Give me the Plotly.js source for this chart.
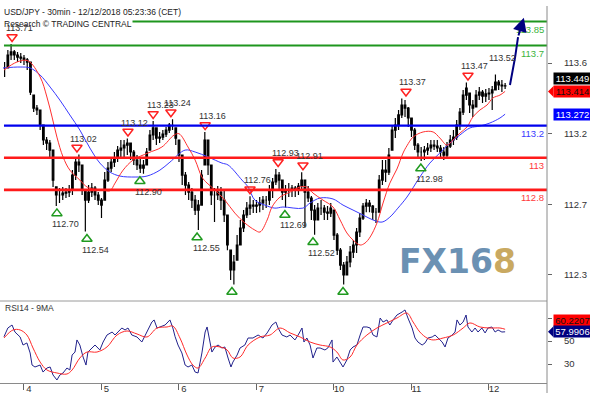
<!DOCTYPE html>
<html><head><meta charset="utf-8">
<script src="https://cdn.plot.ly/plotly-3.0.1.min.js"></script>
<style>html,body{margin:0;padding:0;background:#fff;}#chart{width:590px;height:399px;}</style>
</head><body><div id="chart"></div>
<script>
// ---- data (hours from Dec 4 00:00, weekend removed) ----
const barHours = [-6,-5,-4,-3,-2,-1,0,1,2,3,4,5,6,7,8,9,10,11,12,13,14,15,16,17,18,19,20,21,22,23,24,25,26,27,28,29,30,31,32,33,34,35,36,37,38,39,40,41,42,43,44,45,46,47,48,49,50,51,52,53,54,55,56,57,58,59,60,61,62,63,64,65,66,67,68,69,70,71,72,73,74,75,76,77,78,79,80,81,82,83,84,85,86,87,88,89,90,91,92,93,94,95,96,97,98,99,100,101,102,103,104,105,106,107,108,109,110,111,112,113,114,115,116,117,118,119,120,121,122,123,124,125,126,127,128,129,130,131,132,133,134,135,136,137,138,139,140,141,142,143,144,145,146,147,148,149];
const barHigh = [113.597,113.672,113.710,113.672,113.660,113.653,
113.641,113.622,113.597,113.391,113.329,113.298,113.204,113.129,113.111,113.048,112.818,112.811,112.818,112.811,112.830,112.923,112.998,113.020,112.955,112.799,112.830,112.842,112.824,112.786,
112.749,112.911,112.973,113.005,113.036,113.073,113.111,113.111,113.120,113.092,113.048,113.017,112.998,112.986,113.061,113.173,113.230,113.186,113.161,113.173,113.192,113.217,113.240,113.186,
113.111,113.017,112.911,112.849,112.811,112.768,112.736,112.923,113.160,113.111,112.955,112.811,112.824,112.818,112.799,112.643,112.424,112.393,112.518,112.612,112.674,112.724,112.760,112.736,
112.736,112.755,112.761,112.761,112.830,112.874,112.930,112.911,112.861,112.830,112.842,112.830,112.824,112.842,112.910,112.861,112.824,112.761,112.705,112.718,112.736,112.705,112.699,112.718,
112.674,112.531,112.437,112.350,112.387,112.450,112.487,112.562,112.655,112.718,112.743,112.736,112.705,112.686,112.892,112.986,112.986,113.061,113.204,113.248,113.298,113.370,113.360,113.317,
113.248,113.186,113.092,113.067,113.073,113.092,113.111,113.111,113.111,113.079,113.067,113.098,113.142,113.173,113.235,113.310,113.423,113.470,113.404,113.360,113.423,113.441,113.423,113.429,
113.435,113.448,113.520,113.485,113.485,113.466];
const barLow = [113.504,113.560,113.610,113.610,113.597,113.591,
113.578,113.547,113.391,113.285,113.267,113.173,113.079,113.048,113.005,112.818,112.700,112.718,112.736,112.749,112.755,112.768,112.861,112.911,112.768,112.540,112.718,112.755,112.736,112.705,
112.624,112.736,112.849,112.911,112.942,112.973,113.005,112.998,113.017,112.986,112.955,112.923,112.905,112.900,112.955,113.048,113.111,113.079,113.092,113.111,113.129,113.154,113.173,113.079,
112.973,112.830,112.768,112.736,112.686,112.643,112.550,112.705,112.955,112.892,112.705,112.599,112.736,112.674,112.599,112.424,112.237,112.210,112.362,112.456,112.537,112.624,112.643,112.655,
112.655,112.661,112.674,112.686,112.705,112.749,112.830,112.799,112.736,112.690,112.755,112.755,112.755,112.768,112.799,112.568,112.724,112.612,112.520,112.612,112.643,112.612,112.612,112.630,
112.487,112.393,112.300,112.210,112.269,112.318,112.375,112.406,112.506,112.612,112.661,112.661,112.612,112.593,112.661,112.830,112.849,112.892,113.048,113.123,113.173,113.248,113.254,113.192,
113.129,113.048,112.998,112.980,112.986,113.017,113.036,113.048,113.036,113.005,112.986,113.005,113.061,113.079,113.111,113.173,113.267,113.360,113.279,113.254,113.317,113.360,113.341,113.348,
113.360,113.298,113.423,113.423,113.410,113.429];
const barClose = [113.560,113.641,113.660,113.641,113.628,113.622,
113.610,113.597,113.410,113.310,113.298,113.204,113.111,113.092,113.048,112.861,112.768,112.768,112.780,112.786,112.799,112.892,112.973,112.955,112.799,112.736,112.786,112.811,112.768,112.736,
112.705,112.861,112.936,112.973,112.998,113.048,113.061,113.079,113.092,113.036,112.986,112.955,112.936,112.955,113.036,113.142,113.186,113.123,113.129,113.148,113.173,113.204,113.204,113.123,
113.017,112.892,112.830,112.786,112.736,112.674,112.705,112.892,113.111,112.955,112.768,112.768,112.786,112.736,112.643,112.456,112.300,112.350,112.456,112.562,112.643,112.686,112.705,112.699,
112.705,112.718,112.736,112.736,112.799,112.849,112.892,112.861,112.786,112.799,112.799,112.811,112.799,112.824,112.861,112.786,112.749,112.674,112.612,112.686,112.686,112.661,112.655,112.686,
112.518,112.424,112.331,112.269,112.350,112.412,112.456,112.537,112.624,112.699,112.718,112.699,112.661,112.661,112.861,112.923,112.911,113.017,113.173,113.204,113.267,113.329,113.310,113.248,
113.173,113.079,113.036,113.036,113.048,113.061,113.079,113.073,113.061,113.036,113.017,113.073,113.111,113.129,113.204,113.285,113.391,113.435,113.329,113.310,113.391,113.410,113.385,113.398,
113.404,113.423,113.472,113.454,113.448,113.449];

const maFastHours = [-6.2,-2.2,1.2,5.0,7.1,8.7,10.2,12.1,14.2,17.3,19.5,21.4,24.5,26.6,28.2,30.7,33.8,38.4,42.7,46.5,48.0,50.8,53.0,55.1,56.7,59.2,62.2,65.3,68.4,71.5,73.1,75.3,76.8,79.3,82.4,85.5,87.6,89.5,92.6,95.7,97.9,100.0,101.9,104.1,105.6,107.2,109.3,111.2,113.3,115.5,117.4,118.6,120.5,123.6,126.7,128.8,131.0,132.9,135.0,137.2,139.0,141.2,143.4,145.2,147.4,149.0];
const maFastValues = [113.547,113.597,113.605,113.504,113.379,113.254,113.129,113.005,112.923,112.861,112.818,112.805,112.799,112.794,112.842,112.923,112.986,113.030,113.067,113.142,113.150,113.067,112.986,112.880,112.842,112.799,112.736,112.655,112.593,112.549,112.537,112.612,112.693,112.755,112.786,112.818,112.818,112.780,112.736,112.693,112.612,112.531,112.487,112.456,112.468,112.506,112.593,112.718,112.842,112.930,113.030,113.075,113.129,113.161,113.161,113.123,113.079,113.111,113.154,113.192,113.254,113.298,113.329,113.373,113.391,113.414];
const maSlowHours = [-6.5,-1.2,1.9,5.0,8.1,11.1,14.2,17.3,20.4,23.5,26.6,29.7,34.4,38.1,42.1,45.2,49.9,53.0,57.0,61.3,63.2,67.5,69.4,71.5,74.6,77.7,80.2,86.4,88.6,91.7,95.7,98.8,101.9,105.0,108.1,110.9,113.3,115.8,118.6,122.6,125.7,128.8,131.9,135.0,138.1,141.2,144.3,147.4,149.0];
const maSlowValues = [113.560,113.566,113.560,113.516,113.441,113.360,113.267,113.173,113.061,112.967,112.911,112.886,112.880,112.886,112.923,112.973,113.048,113.036,113.005,112.967,112.955,112.861,112.818,112.736,112.705,112.686,112.693,112.686,112.718,112.749,112.743,112.705,112.674,112.643,112.612,112.599,112.630,112.686,112.755,112.880,112.967,113.030,113.092,113.142,113.186,113.198,113.217,113.248,113.272];

const rsiHours = [-6.2,-5.0,-3.7,-2.8,-1.2,-0.3,0.9,1.9,2.5,3.4,5.0,5.9,7.1,8.1,9.0,10.2,11.1,12.1,13.3,14.2,14.9,15.8,16.4,17.3,18.3,19.2,19.8,21.1,22.0,23.5,24.5,25.7,27.3,28.2,29.1,30.3,31.3,32.2,33.4,35.0,36.5,37.5,38.4,39.6,40.3,41.2,42.1,43.7,45.2,46.1,46.8,47.7,48.9,49.9,50.8,52.0,53.0,53.9,55.1,56.1,56.7,57.3,58.2,59.2,60.1,61.3,62.2,63.2,64.1,64.7,66.0,66.9,68.4,69.4,70.9,72.5,74.0,75.3,76.8,78.0,78.7,79.9,81.4,82.4,83.9,84.9,85.5,86.1,86.7,87.6,88.6,89.5,90.7,91.7,93.2,94.1,95.4,95.7,96.9,97.9,98.8,100.0,101.0,101.9,103.1,104.1,105.0,106.2,107.2,108.1,109.3,110.3,111.2,112.4,113.3,114.3,115.5,117.1,118.0,118.9,120.2,121.1,122.0,123.3,124.2,125.1,126.4,127.3,128.2,129.5,130.4,131.3,132.6,133.5,134.1,135.0,136.0,136.9,137.5,138.7,139.7,140.6,141.8,142.8,143.7,144.9,145.9,146.8,148.0,149.0];
const rsiValues = [53.7,61.3,63.9,57.8,53.5,46.5,48.3,39.6,29.1,27.4,29.1,23.0,26.5,27.4,20.4,16.1,20.4,22.2,26.5,24.8,37.8,40.4,50.9,46.5,36.1,29.1,40.4,43.9,46.5,42.2,49.1,55.2,57.8,55.2,57.8,61.3,59.6,61.3,55.2,53.5,49.1,55.2,59.6,66.5,68.3,61.3,62.2,63.9,68.3,61.3,53.7,46.5,39.6,29.1,27.4,29.1,23.0,22.2,39.6,57.8,62.2,52.6,40.4,44.8,46.5,43.9,44.8,35.2,27.4,31.7,37.8,43.9,46.5,52.6,52.6,55.2,52.6,57.0,63.9,66.5,61.3,55.2,53.5,55.2,50.9,55.2,57.8,61.3,49.1,52.6,46.5,35.2,43.9,43.9,42.2,43.9,50.9,31.7,36.1,30.9,27.4,33.5,42.2,44.8,46.5,55.2,62.2,62.2,61.3,55.2,53.5,70.0,66.5,68.3,63.9,68.3,72.6,75.2,77.0,70.0,61.3,52.6,49.1,46.5,48.3,52.6,53.5,55.2,52.6,49.1,44.8,52.6,55.2,57.8,68.3,63.9,66.5,72.6,62.2,57.8,61.3,57.8,61.3,57.0,61.3,62.2,57.8,59.6,57.8,57.99];
const rsiMaHours = [-6.2,-3.4,-1.2,0.9,2.8,5.0,7.1,10.2,13.3,14.9,17.3,19.5,22.6,25.7,28.8,31.9,35.0,38.1,41.2,44.3,46.1,48.3,50.5,52.3,53.9,56.1,58.2,60.7,62.9,64.7,66.9,69.4,73.1,76.2,79.3,82.4,85.5,88.6,91.7,94.8,96.9,98.8,101.0,103.1,106.2,109.3,112.4,115.5,118.6,120.5,122.6,124.8,126.7,129.8,132.9,136.0,138.1,141.2,144.3,147.4,149.0];
const rsiMaValues = [52.6,59.6,59.6,55.2,43.9,31.7,24.8,22.2,21.3,24.8,35.2,40.4,40.4,44.8,55.2,58.7,56.1,53.5,61.3,62.2,63.0,52.6,37.8,29.1,26.5,35.2,44.8,44.8,42.2,35.2,36.1,46.5,53.5,55.2,61.3,57.0,53.5,49.1,46.5,44.8,40.4,33.5,36.1,46.5,55.2,61.3,65.7,70.0,74.3,66.5,57.8,52.6,50.9,52.6,55.2,61.3,65.7,62.2,61.3,61.3,60.22];

const pivotHighHours = [-3.7,16.4,32.2,40.0,45.5,56.1,70.0,78.7,86.4,118.3,137.5,145.9];
const pivotHighPrices = [113.71,113.02,113.12,113.23,113.24,113.16,112.76,112.93,112.91,113.37,113.47,113.52];
const pivotHighMarked = [1,1,1,1,1,1,1,1,1,1,1,0];
const pivotLowHours = [10.2,19.5,35.9,53.6,64.4,80.8,89.5,98.8,122.9];
const pivotLowPrices = [112.70,112.54,112.90,112.55,112.21,112.69,112.52,112.21,112.98];
const pivotLowLabeled = [1,1,1,1,0,1,1,0,1];

const resistanceLevels = [113.85, 113.7];
const pivotLevels = [113.2];
const supportLevels = [113.0, 112.8];

const dayTickHours = [0,24,48,72,96,120,144];
const dayTickLabels = ['4','5','6','7','10','11','12'];
const priceTickValues = [113.59,113.15,112.71,112.27];
const priceTickLabels = ['113.6','113.2','112.7','112.3'];
const rsiTickValues = [70,50,30];
const rsiTickLabels = ['','50','30'];

const lastClose = 113.449, lastFastMA = 113.414, lastSlowMA = 113.272;
const lastRsi = 57.9906, lastRsiMA = 60.2207;

// ---- geometry ----
const W = 590, H = 399;
const FONT = 'Liberation Sans, Arial, sans-serif';
const priceRange = [112.113, 113.984];
const rsiRange = [13.48, 84.78];
const mainDom = [(H-300)/H, 1];
const rsiDom = [(H-383)/H, (H-301)/H];
const xRight = 547/W;
const pxPerPrice = 300/(priceRange[1]-priceRange[0]);
const mainPY = v => mainDom[0] + (v-priceRange[0])/(priceRange[1]-priceRange[0])*(mainDom[1]-mainDom[0]);
const rsiPY = v => rsiDom[0] + (v-rsiRange[0])/(rsiRange[1]-rsiRange[0])*(rsiDom[1]-rsiDom[0]);

const barOpen = barClose.map((c,i)=>{const p = i ? barClose[i-1] : c; return Math.min(barHigh[i], Math.max(barLow[i], p));});

const traces = [
 {type:'candlestick', x:barHours, open:barOpen, high:barHigh, low:barLow, close:barClose,
  increasing:{line:{color:'#000',width:1.2}, fillcolor:'#000'},
  decreasing:{line:{color:'#000',width:1.2}, fillcolor:'#000'},
  whiskerwidth:0, xaxis:'x', yaxis:'y', hoverinfo:'skip'},
 {type:'scatter', mode:'lines', x:maSlowHours, y:maSlowValues, line:{color:'#3a3aff',width:1,shape:'spline'}, xaxis:'x', yaxis:'y'},
 {type:'scatter', mode:'lines', x:maFastHours, y:maFastValues, line:{color:'#ff3030',width:1,shape:'spline'}, xaxis:'x', yaxis:'y'},
 {type:'scatter', mode:'markers', x:pivotHighHours, y:pivotHighPrices.map(p=>p+7/pxPerPrice),
  marker:{symbol:'triangle-down-open', size:9, color:'#ff2020', line:{width:1.5,color:'#ff2020'}, opacity:pivotHighMarked}, xaxis:'x', yaxis:'y'},
 {type:'scatter', mode:'markers', x:pivotLowHours, y:pivotLowPrices.map(p=>p-7.5/pxPerPrice),
  marker:{symbol:'triangle-up-open', size:9, color:'#1f9a1f', line:{width:1.5,color:'#1f9a1f'}}, xaxis:'x', yaxis:'y'},
 {type:'scatter', mode:'lines', x:rsiHours, y:rsiValues, line:{color:'#22228c',width:1}, xaxis:'x', yaxis:'y2'},
 {type:'scatter', mode:'lines', x:rsiMaHours, y:rsiMaValues, line:{color:'#ff2a2a',width:1,shape:'spline'}, xaxis:'x', yaxis:'y2'}
];

const shapes = [];
const annotations = [];
function level(v, color, lcolor, w){
  shapes.push({type:'line', xref:'x', yref:'y', x0:-6.2, x1:170, y0:v, y1:v, line:{color:color, width:w}, layer:'above'});
  annotations.push({xref:'paper', yref:'y', x:546/W, y:v, xanchor:'right', yanchor:'top', yshift:-0.5, showarrow:false,
    text:String(v), font:{family:FONT, size:9.5, color:lcolor}});
}
resistanceLevels.forEach(v=>level(v,'#1e961e','#3cb43c',2));
pivotLevels.forEach(v=>level(v,'#0000ee','#3a3aff',2.2));
supportLevels.forEach(v=>level(v,'#ff1a1a','#ff3a3a',2.6));

// target arrow
shapes.push({type:'path', xref:'x', yref:'y', path:'M150.5,113.454 L152.1,113.628 L153.0,113.753', line:{color:'#000080', width:2}, layer:'above'});
annotations.push({xref:'x', yref:'y', x:154.8, y:113.874, axref:'x', ayref:'y', ax:153.0, ay:113.753, text:'', showarrow:true,
  arrowhead:2, arrowsize:1.4, arrowwidth:2, arrowcolor:'#000080'});

// titles
annotations.push({xref:'paper', yref:'paper', x:3/W, y:(H-12)/H, xanchor:'left', yanchor:'middle', showarrow:false,
  text:'USD/JPY - 30min - 12/12/2018 05:23:36 (CET)', font:{family:FONT, size:8.5, color:'#222'}, bgcolor:'#fff', borderpad:0});
annotations.push({xref:'paper', yref:'paper', x:3/W, y:(H-24)/H, xanchor:'left', yanchor:'middle', showarrow:false,
  text:'Research © TRADING CENTRAL', font:{family:FONT, size:8.5, color:'#222'}, bgcolor:'#fff', borderpad:0});
annotations.push({xref:'paper', yref:'paper', x:3/W, y:(H-308)/H, xanchor:'left', yanchor:'middle', showarrow:false,
  text:'RSI14 - 9MA', font:{family:FONT, size:8.5, color:'#333'}});

// pivot labels
pivotHighHours.forEach((h,i)=>annotations.push({xref:'x', yref:'y', x:h, y:pivotHighPrices[i], xshift:7, yshift:16,
  showarrow:false, text:pivotHighPrices[i].toFixed(2), font:{family:FONT, size:9, color:'#333'}}));
pivotLowHours.forEach((h,i)=>{ if(pivotLowLabeled[i]) annotations.push({xref:'x', yref:'y', x:h, y:pivotLowPrices[i], xshift:9, yshift:-18,
  showarrow:false, text:pivotLowPrices[i].toFixed(2), font:{family:FONT, size:9, color:'#333'}});});

// watermark
annotations.push({xref:'paper', yref:'paper', x:457/W, y:(H-261)/H, xanchor:'center', yanchor:'middle', showarrow:false,
  text:"<b>FX16<span style='color:#c9a961'>8</span></b>", font:{family:'DejaVu Sans, sans-serif', size:33, color:'#6b91b3'}});

// value boxes
function box(yPaper, txt, bg, fg, arrow){
  if(arrow){
    shapes.push({type:'path', xref:'paper', yref:'paper', path:`M${548/W},${yPaper} L${553.5/W},${yPaper+5.5/H} L${553.5/W},${yPaper-5.5/H} Z`,
      fillcolor:bg, line:{width:0}, layer:'above'});
  }
  annotations.push({xref:'paper', yref:'paper', x:553/W, y:yPaper, xanchor:'left', yanchor:'middle', showarrow:false,
    text:txt, font:{family:FONT, size:9.5, color:fg}, bgcolor:bg, borderpad:0, width:37, height:11, align:'center'});
}
box(mainPY(lastClose)+7/H, lastClose.toFixed(3), '#000000', '#ffffff', false);
box(mainPY(lastFastMA), lastFastMA.toFixed(3), '#ff0000', '#111111', true);
box(mainPY(lastSlowMA), lastSlowMA.toFixed(3), '#0000ff', '#ffffff', false);
box(rsiPY(lastRsiMA)+9/H, lastRsiMA.toFixed(4), '#ff0000', '#111111', false);
box(rsiPY(lastRsi), lastRsi.toFixed(4), '#000080', '#ffffff', true);

// frame lines
shapes.push({type:'line', xref:'paper', yref:'paper', x0:0, x1:xRight, y0:rsiDom[1], y1:rsiDom[1], line:{color:'#9a9a9a', width:1}});
shapes.push({type:'line', xref:'paper', yref:'paper', x0:xRight, x1:xRight, y0:(H-393)/H, y1:(H-6)/H, line:{color:'#8a8a8a', width:1}});

const tickFont = {family:FONT, size:9.5, color:'#333'};
const layout = {
  width:W, height:H, margin:{l:0,r:0,t:0,b:0}, paper_bgcolor:'#fff', plot_bgcolor:'rgba(0,0,0,0)', showlegend:false,
  xaxis:{domain:[0,xRight], range:[-7.43,161.97], anchor:'y2', showgrid:false, zeroline:false, showline:true, linecolor:'#8a8a8a', linewidth:1,
    ticks:'outside', ticklen:6, tickcolor:'#666', tickvals:dayTickHours, ticktext:dayTickLabels, tickfont:tickFont,
    rangeslider:{visible:false}, ticklabelshift:5, ticklabelstandoff:-9, fixedrange:true},
  yaxis:{domain:mainDom, range:priceRange, side:'right', anchor:'x', showgrid:false, zeroline:false, showline:false,
    ticks:'outside', ticklen:4, tickcolor:'#666', tickvals:priceTickValues, ticktext:priceTickLabels, tickfont:tickFont, ticklabelstandoff:10},
  yaxis2:{domain:rsiDom, range:rsiRange, side:'right', anchor:'x', showgrid:false, zeroline:false, showline:false,
    ticks:'outside', ticklen:4, tickcolor:'#666', tickvals:rsiTickValues, ticktext:rsiTickLabels, tickfont:tickFont, ticklabelstandoff:10},
  shapes:shapes, annotations:annotations
};
Plotly.newPlot('chart', traces, layout, {staticPlot:true, displayModeBar:false});
</script></body></html>
